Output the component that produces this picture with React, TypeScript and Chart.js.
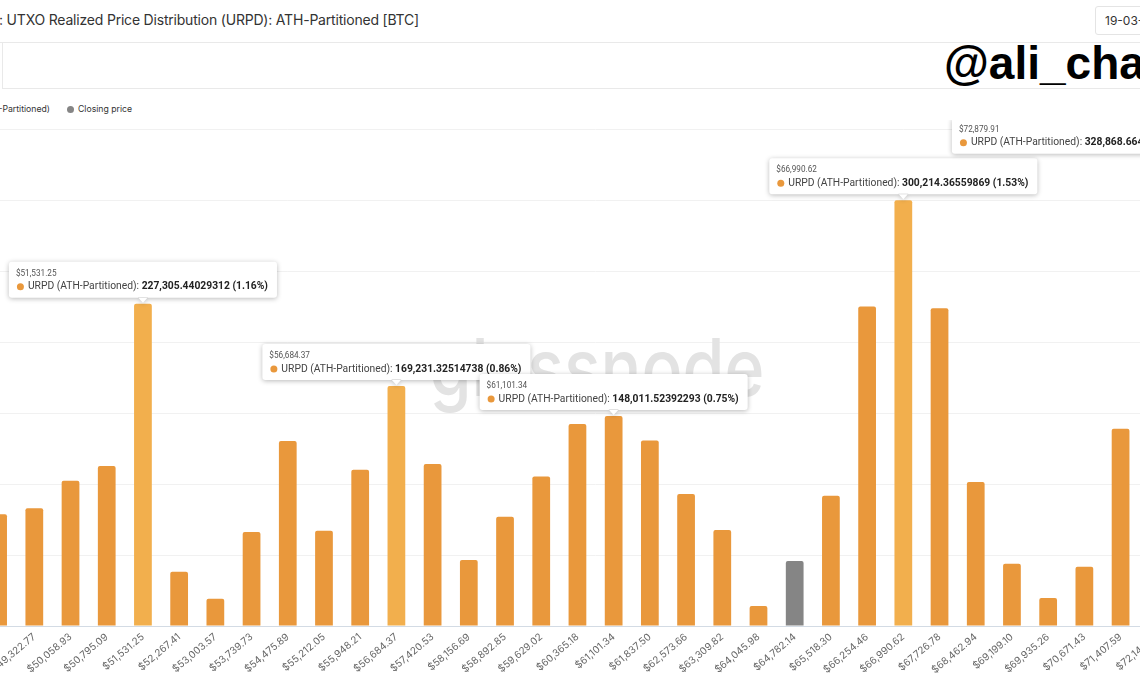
import React, { useEffect, useRef } from "react";
import { Chart, registerables } from "chart.js";

Chart.register(...registerables);

// ---- Data ----
const priceBins: string[] = [
  "$48,586.61", "$49,322.77", "$50,058.93", "$50,795.09", "$51,531.25", "$52,267.41",
  "$53,003.57", "$53,739.73", "$54,475.89", "$55,212.05", "$55,948.21", "$56,684.37",
  "$57,420.53", "$58,156.69", "$58,892.85", "$59,629.02", "$60,365.18", "$61,101.34",
  "$61,837.50", "$62,573.66", "$63,309.82", "$64,045.98", "$64,782.14", "$65,518.30",
  "$66,254.46", "$66,990.62", "$67,726.78", "$68,462.94", "$69,199.10", "$69,935.26",
  "$70,671.43", "$71,407.59", "$72,143.75", "$72,879.91",
];

const urpdValues: (number | null)[] = [
  78800, 83000, 102500, 112800, 227305.44029312, 38300,
  19300, 66300, 130500, 67200, 110200, 169231.32514738,
  114200, 46500, 77100, 105500, 142500, 148011.52392293,
  130900, 93100, 67700, 14100, 45800, 91900,
  225400, 300214.36559869, 224000, 101500, 43900, 19700,
  41800, 139100, null, 328868.664,
];

const tooltipBins: string[] = ["$51,531.25", "$56,684.37", "$61,101.34", "$66,990.62", "$72,879.91"];
const tooltipShares: string[] = ["1.16%", "0.86%", "0.75%", "1.53%", "1.68%"];
const highlightedBins: string[] = ["$51,531.25", "$56,684.37", "$66,990.62", "$72,879.91"];
const closingPriceBin = "$64,782.14";

const yTicks: number[] = [0, 50000, 100000, 150000, 200000, 250000, 300000, 350000];

// ---- Styles ----
const ORANGE = "#E9983C";
const ORANGE_LIGHT = "#F2AF4D";
const GREY = "#858585";
const FONT = "Inter, 'Noto Sans', sans-serif";
const TIP_FONT = "Roboto, 'Noto Sans', sans-serif";

const CANVAS_LEFT = -20;
const CANVAS_TOP = 120;
const CANVAS_W = 1240;
const CANVAS_H = 574;

function fmtValue(v: number): string {
  return v.toLocaleString("en-US", { minimumFractionDigits: 8, maximumFractionDigits: 8 });
}

const watermarkPlugin = {
  id: "glassnodeWatermark",
  beforeDatasetsDraw(chart: any) {
    const ctx = chart.ctx as CanvasRenderingContext2D;
    ctx.save();
    ctx.font = `500 80px ${FONT}`;
    const text = "glassnode";
    const w = ctx.measureText(text).width;
    const targetW = 335;
    const cx = 597 - CANVAS_LEFT;
    const baseY = 396 - CANVAS_TOP;
    ctx.translate(cx, baseY);
    ctx.scale(targetW / w, 1);
    ctx.fillStyle = "#e3e3e3";
    ctx.textAlign = "center";
    ctx.textBaseline = "alphabetic";
    ctx.fillText(text, 0, 0);
    ctx.restore();
  },
};

const multiTooltipPlugin = {
  id: "multiTooltips",
  afterDraw(chart: any) {
    const ctx = chart.ctx as CanvasRenderingContext2D;
    const meta = chart.getDatasetMeta(0);
    const bodyFont = `400 10.3px ${TIP_FONT}`;
    const boldFont = `700 10.3px ${TIP_FONT}`;
    const titleFont = `400 8.2px ${TIP_FONT}`;
    tooltipBins.forEach((bin, k) => {
      const i = priceBins.indexOf(bin);
      const el = meta.data[i];
      const v = urpdValues[i];
      if (!el || v == null) return;
      const label = "URPD (ATH-Partitioned): ";
      const valueText = `${fmtValue(v)} (${tooltipShares[k]})`;
      ctx.save();
      ctx.font = bodyFont;
      const lw = ctx.measureText(label).width;
      ctx.font = boldFont;
      const vw = ctx.measureText(valueText).width;
      const boxW = 19 + lw + vw + 9;
      const boxH = 36;
      let bx = el.x - boxW / 2;
      bx = Math.max(0, Math.min(bx, chart.width - boxW));
      const by = el.y - 6 - boxH;
      const caretX = el.x;
      ctx.shadowColor = "rgba(0,0,0,0.28)";
      ctx.shadowBlur = 5;
      ctx.shadowOffsetY = 1;
      ctx.fillStyle = "#ffffff";
      ctx.beginPath();
      (ctx as any).roundRect(bx, by, boxW, boxH, 3);
      ctx.moveTo(caretX - 5, by + boxH - 0.5);
      ctx.lineTo(caretX, by + boxH + 5);
      ctx.lineTo(caretX + 5, by + boxH - 0.5);
      ctx.closePath();
      ctx.fill();
      ctx.shadowColor = "transparent";
      ctx.shadowBlur = 0;
      ctx.shadowOffsetY = 0;
      ctx.textBaseline = "middle";
      ctx.textAlign = "left";
      ctx.font = titleFont;
      ctx.fillStyle = "#555";
      ctx.fillText(bin, bx + 7, by + 12);
      ctx.fillStyle = ORANGE;
      ctx.beginPath();
      ctx.arc(bx + 11.5, by + 25, 3.5, 0, Math.PI * 2);
      ctx.fill();
      ctx.font = bodyFont;
      ctx.fillStyle = "#444";
      ctx.fillText(label, bx + 19, by + 25);
      ctx.font = boldFont;
      ctx.fillStyle = "#222";
      ctx.fillText(valueText, bx + 19 + lw, by + 25);
      ctx.restore();
    });
  },
};

function UrpdChart() {
  const ref = useRef<HTMLCanvasElement | null>(null);
  useEffect(() => {
    if (!ref.current) return;
    const colors = priceBins.map((b) =>
      b === closingPriceBin ? GREY : highlightedBins.includes(b) ? ORANGE_LIGHT : ORANGE
    );
    const chart = new Chart(ref.current, {
      type: "bar",
      data: {
        labels: priceBins,
        datasets: [
          {
            label: "URPD (ATH-Partitioned)",
            data: urpdValues,
            backgroundColor: colors,
            borderRadius: { topLeft: 2, topRight: 2, bottomLeft: 0, bottomRight: 0 },
            borderSkipped: false,
            barPercentage: 0.49,
            categoryPercentage: 1,
          },
        ],
      },
      options: {
        animation: false,
        responsive: false,
        maintainAspectRatio: false,
        devicePixelRatio: 1,
        layout: { padding: { left: 0, right: 8.9, top: 9.7, bottom: 0 } },
        plugins: { legend: { display: false }, tooltip: { enabled: false } },
        scales: {
          x: {
            offset: true,
            grid: { display: false, drawTicks: false },
            border: { display: true, color: "#d3dbe4" },
            ticks: {
              autoSkip: false,
              minRotation: 40,
              maxRotation: 40,
              padding: 5,
              color: "#666",
              font: { size: 10, family: FONT },
            },
            afterFit(s: any) {
              s.height = 68;
              s.paddingLeft = 0;
              s.paddingRight = 0;
            },
          },
          y: {
            min: yTicks[0],
            max: yTicks[yTicks.length - 1],
            afterBuildTicks(s: any) {
              s.ticks = yTicks.map((v) => ({ value: v }));
            },
            ticks: { display: false },
            grid: { color: "#f1f1f1", drawTicks: false },
            border: { display: false },
            afterFit(s: any) {
              s.width = 0;
              s.paddingTop = 0;
              s.paddingBottom = 0;
            },
          },
        },
      },
      plugins: [watermarkPlugin, multiTooltipPlugin],
    });
    return () => chart.destroy();
  }, []);
  return (
    <canvas
      ref={ref}
      width={CANVAS_W}
      height={CANVAS_H}
      style={{ position: "absolute", left: CANVAS_LEFT, top: CANVAS_TOP, width: CANVAS_W, height: CANVAS_H }}
    />
  );
}

export default function App() {
  return (
    <div
      style={{
        position: "fixed",
        left: 0,
        top: 0,
        width: 1140,
        height: 694,
        overflow: "hidden",
        background: "#fff",
        fontFamily: FONT,
      }}
    >
      {/* title */}
      <div
        style={{
          position: "absolute",
          left: -1,
          top: 11,
          fontSize: 14,
          letterSpacing: -0.2,
          color: "#333",
          whiteSpace: "nowrap",
        }}
      >
        : UTXO Realized Price Distribution (URPD): ATH-Partitioned [BTC]
      </div>
      {/* date box */}
      <div
        style={{
          position: "absolute",
          left: 1095,
          top: 6,
          width: 90,
          height: 27,
          border: "1px solid #e4e4e4",
          borderRadius: 3,
          fontSize: 12,
          color: "#333",
          lineHeight: "27px",
          paddingLeft: 9,
          whiteSpace: "nowrap",
        }}
      >
        19-03-2024
      </div>
      {/* header lines */}
      <div style={{ position: "absolute", left: 0, top: 42, width: 1140, height: 1, background: "#e9e9e9" }} />
      <div
        style={{
          position: "absolute",
          left: 2,
          top: 42,
          width: 1200,
          height: 46,
          borderLeft: "1px solid #e9e9e9",
          borderBottom: "1px solid #e9e9e9",
        }}
      />
      {/* watermark handle */}
      <div
        style={{
          position: "absolute",
          left: 944,
          top: 36,
          fontFamily: "'Liberation Sans', Arial, sans-serif",
          fontWeight: 700,
          fontSize: 46,
          color: "#000",
          whiteSpace: "nowrap",
        }}
      >
        @ali_charts
      </div>
      {/* legend */}
      <div
        style={{
          position: "absolute",
          right: 1140 - 50,
          top: 104,
          fontSize: 8.7,
          color: "#333",
          whiteSpace: "nowrap",
          display: "flex",
          alignItems: "center",
        }}
      >
        <span style={{ width: 7, height: 7, borderRadius: 4, background: ORANGE, display: "inline-block", marginRight: 4 }} />
        URPD (ATH-Partitioned)
      </div>
      <div
        style={{
          position: "absolute",
          left: 67,
          top: 104,
          fontSize: 8.7,
          color: "#333",
          whiteSpace: "nowrap",
          display: "flex",
          alignItems: "center",
        }}
      >
        <span style={{ width: 7, height: 7, borderRadius: 4, background: GREY, display: "inline-block", marginRight: 4 }} />
        Closing price
      </div>
      <UrpdChart />
    </div>
  );
}
